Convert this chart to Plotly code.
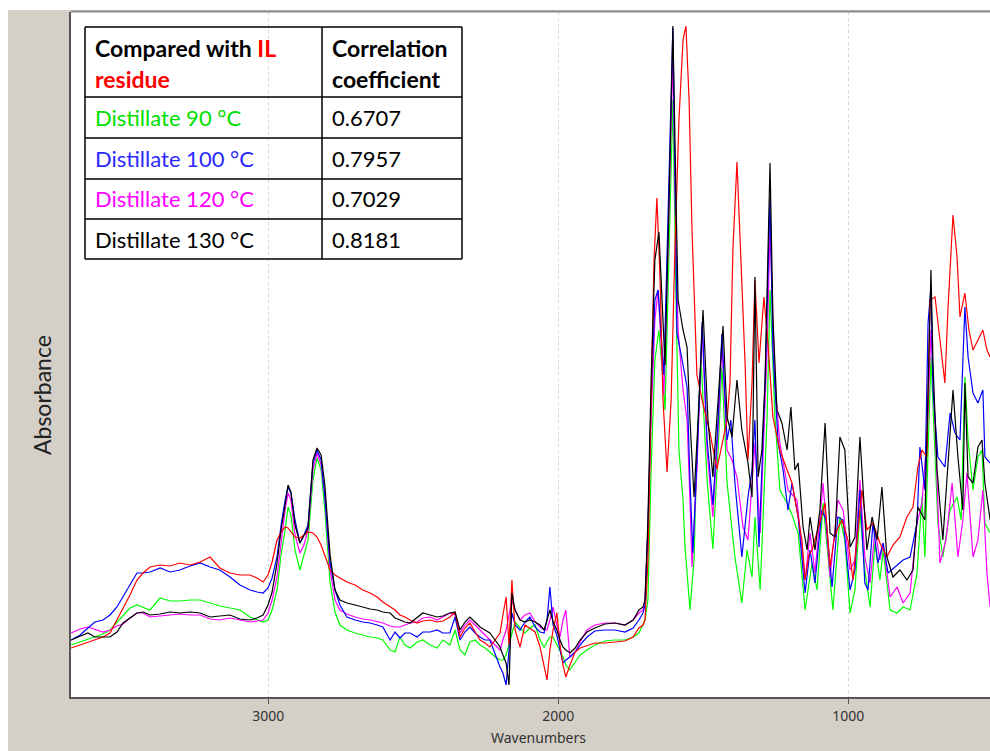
import plotly.graph_objects as go

# ---------------- data ----------------
# shared wavenumber grid for 3680-1722 cm-1 region
wn_common = [3680, 3649, 3622, 3598, 3570, 3546, 3522, 3501, 3477, 3453, 3432, 3408,
             3373, 3339, 3305, 3270, 3235, 3201, 3167, 3132, 3098, 3063,
             3039, 3018, 3001, 2987, 2970, 2956, 2942, 2932, 2922, 2908,
             2891, 2877, 2863, 2846, 2832, 2818, 2805, 2787, 2770, 2753,
             2729, 2701, 2674, 2649, 2625, 2605, 2580, 2563, 2546, 2529,
             2511, 2487, 2467, 2442, 2418, 2398, 2374, 2356, 2339, 2322,
             2305, 2287, 2270, 2253, 2236, 2218, 2201, 2191, 2180, 2170,
             2160, 2149, 2132, 2115, 2098, 2080, 2063, 2049, 2039, 2029,
             2018, 2005, 1994, 1984, 1974, 1960, 1942, 1925, 1901, 1874,
             1839, 1805, 1770, 1742, 1722]

# absorbance (mAU) on the shared grid
il_residue_a = [49, 52, 55, 57, 60, 64, 77, 89, 102, 117, 124, 130,
                132, 131, 134, 132, 135, 140, 129, 124, 122, 122,
                119, 115, 122, 135, 157, 165, 170, 169, 165, 160,
                159, 162, 165, 164, 160, 152, 142, 127, 122, 119,
                115, 112, 107, 104, 100, 95, 90, 87, 82, 80,
                77, 74, 76, 77, 75, 76, 80, 85, 60, 69,
                74, 65, 57, 54, 50, 57, 64, 82, 100, 52,
                117, 67, 50, 72, 69, 65, 50, 32, 17, 47,
                67, 84, 52, 32, 20, 32, 45, 49, 51, 54,
                54, 55, 56, 60, 69]
d100_a = [57, 62, 69, 75, 77, 82, 90, 100, 112, 124, 124, 125,
          129, 125, 127, 131, 134, 130, 127, 120, 112, 107,
          105, 104, 109, 119, 140, 172, 197, 210, 204, 177,
          154, 162, 172, 234, 247, 237, 200, 134, 107, 92,
          80, 77, 75, 74, 72, 70, 57, 65, 59, 64,
          64, 60, 65, 65, 67, 64, 64, 80, 57, 65,
          70, 64, 60, 57, 57, 42, 30, 24, 12, 47,
          84, 72, 67, 75, 80, 70, 65, 64, 77, 110,
          72, 62, 47, 34, 37, 40, 45, 52, 60, 66,
          67, 67, 65, 69, 77]
d90_a = [52, 55, 58, 60, 63, 67, 75, 82, 89, 92, 90, 87,
         99, 96, 96, 97, 97, 94, 91, 89, 87, 80,
         77, 75, 77, 87, 107, 142, 167, 190, 182, 147,
         127, 142, 157, 217, 239, 227, 187, 114, 85, 72,
         67, 64, 62, 60, 59, 57, 47, 45, 60, 52,
         49, 55, 57, 52, 49, 57, 52, 67, 47, 42,
         55, 57, 52, 49, 45, 40, 37, 37, 42, 52,
         62, 75, 69, 64, 69, 72, 57, 50, 55, 60,
         60, 52, 45, 40, 32, 27, 35, 42, 47, 52,
         56, 57, 57, 60, 64]
d120_a = [64, 68, 70, 68, 65, 67, 71, 73, 79, 84, 84, 80,
          81, 82, 83, 82, 82, 78, 77, 79, 77, 75,
          76, 77, 84, 97, 120, 154, 187, 204, 197, 162,
          144, 152, 167, 227, 244, 232, 200, 127, 97, 87,
          83, 80, 78, 77, 75, 74, 71, 70, 70, 72,
          74, 75, 79, 80, 77, 80, 84, 82, 64, 72,
          77, 72, 67, 62, 57, 52, 47, 57, 67, 82,
          97, 87, 77, 82, 84, 75, 70, 67, 67, 77,
          90, 72, 60, 77, 87, 40, 45, 55, 67, 72,
          74, 74, 72, 77, 84]
d130_a = [57, 61, 64, 60, 60, 60, 65, 74, 79, 84, 85, 82,
          83, 85, 84, 85, 84, 80, 81, 82, 78, 77,
          79, 82, 92, 105, 134, 167, 192, 212, 205, 172,
          154, 162, 169, 237, 249, 242, 212, 142, 107, 97,
          94, 92, 90, 88, 87, 85, 84, 79, 77, 75,
          74, 79, 84, 82, 80, 81, 84, 85, 67, 75,
          80, 75, 70, 67, 64, 57, 50, 42, 34, 12,
          104, 87, 77, 75, 77, 75, 72, 67, 77, 87,
          75, 67, 57, 50, 47, 44, 49, 57, 65, 69,
          73, 74, 72, 77, 87]

# fingerprint region (1708-511 cm-1), each series on its own points
il_residue_wn = [1708, 1701, 1691, 1680, 1670, 1660, 1649, 1639, 1625, 1611,
                 1598, 1584, 1570, 1560, 1549, 1539, 1522, 1504, 1477, 1453,
                 1436, 1418, 1408, 1398, 1384, 1367, 1356, 1346, 1332, 1322,
                 1308, 1291, 1277, 1260, 1236, 1211, 1194, 1173, 1160, 1149,
                 1136, 1125, 1111, 1098, 1080, 1063, 1049, 1039, 1022, 1001,
                 984, 970, 953, 936, 915, 891, 867, 846, 822, 798,
                 777, 760, 746, 729, 718, 701, 684, 667, 656, 639,
                 625, 615, 598, 584, 570, 553, 536, 522, 511]
il_residue_b = [72, 77, 137, 297, 437, 499, 417, 297, 225, 297,
                447, 577, 657, 671, 597, 467, 322, 297, 264, 228,
                252, 277, 314, 447, 535, 414, 334, 237, 314, 417,
                334, 400, 354, 280, 247, 227, 214, 180, 157, 117,
                142, 147, 162, 177, 194, 130, 157, 167, 177, 157,
                117, 157, 207, 167, 174, 154, 140, 152, 160, 180,
                190, 230, 247, 240, 397, 400, 357, 314, 390, 482,
                440, 380, 404, 367, 347, 357, 367, 347, 340]

d130_wn = [1708, 1701, 1691, 1680, 1667, 1653, 1642, 1632, 1618, 1605,
           1594, 1587, 1570, 1556, 1546, 1532, 1518, 1501, 1484, 1467,
           1449, 1432, 1418, 1401, 1384, 1367, 1346, 1332, 1322, 1311,
           1298, 1287, 1270, 1260, 1246, 1229, 1211, 1198, 1184, 1173,
           1156, 1142, 1132, 1115, 1098, 1080, 1063, 1046, 1029, 1012,
           994, 977, 960, 949, 936, 918, 901, 884, 867, 846,
           822, 798, 777, 760, 736, 725, 715, 708, 694, 674,
           656, 639, 622, 605, 598, 587, 570, 553, 539, 529, 511]
d130_b = [90, 97, 177, 317, 437, 465, 397, 332, 497, 671,
          497, 397, 367, 350, 277, 200, 277, 387, 277, 220,
          297, 371, 280, 260, 317, 267, 234, 200, 420, 220,
          247, 317, 534, 380, 287, 274, 247, 290, 227, 234,
          170, 147, 180, 147, 187, 274, 164, 160, 260, 247,
          150, 160, 260, 207, 147, 180, 157, 210, 140, 120,
          127, 117, 127, 190, 177, 307, 427, 334, 227, 157,
          240, 307, 240, 187, 314, 220, 214, 250, 257, 214, 177]

d100_wn = [1708, 1701, 1691, 1680, 1667, 1656, 1646, 1636, 1622, 1605,
           1594, 1591, 1573, 1556, 1546, 1536, 1522, 1504, 1487, 1467,
           1449, 1436, 1418, 1405, 1391, 1367, 1346, 1332, 1322, 1308,
           1287, 1270, 1260, 1242, 1225, 1208, 1194, 1173, 1149, 1132,
           1115, 1091, 1077, 1056, 1036, 1018, 994, 977, 960, 943,
           932, 915, 898, 880, 863, 839, 811, 787, 763, 753,
           736, 725, 715, 708, 691, 667, 649, 632, 615, 598,
           587, 570, 553, 536, 529, 511]
d100_b = [84, 92, 167, 297, 397, 407, 367, 322, 477, 669,
          447, 364, 337, 310, 217, 144, 237, 375, 257, 192,
          277, 363, 257, 277, 214, 140, 200, 227, 277, 150,
          314, 500, 347, 254, 227, 187, 214, 180, 104, 147,
          114, 187, 177, 110, 180, 177, 107, 127, 207, 114,
          107, 174, 134, 154, 124, 130, 137, 140, 174, 250,
          207, 374, 410, 307, 240, 230, 284, 264, 257, 390,
          340, 304, 294, 307, 240, 234]

d120_wn = [1708, 1701, 1691, 1680, 1667, 1656, 1646, 1636, 1622, 1605,
           1594, 1587, 1570, 1556, 1546, 1539, 1522, 1504, 1487, 1467,
           1449, 1436, 1418, 1401, 1384, 1363, 1346, 1322, 1304, 1280,
           1270, 1253, 1236, 1208, 1177, 1149, 1132, 1115, 1087, 1063,
           1036, 1018, 994, 977, 960, 943, 925, 908, 891, 880,
           856, 832, 811, 787, 763, 746, 729, 715, 701, 684,
           663, 642, 622, 605, 591, 570, 553, 536, 522, 511]
d120_b = [87, 97, 167, 277, 377, 407, 357, 302, 447, 642,
          447, 367, 307, 277, 197, 130, 227, 371, 247, 180,
          267, 355, 247, 237, 220, 170, 157, 254, 164, 347,
          470, 314, 254, 207, 197, 117, 164, 124, 214, 120,
          197, 187, 127, 137, 217, 140, 114, 167, 137, 154,
          100, 110, 94, 104, 174, 194, 257, 367, 274, 134,
          157, 214, 140, 177, 224, 140, 157, 207, 124, 90]

d90_wn = [1708, 1701, 1691, 1680, 1667, 1653, 1642, 1632, 1618, 1605,
          1594, 1584, 1570, 1563, 1546, 1532, 1522, 1508, 1487, 1467,
          1449, 1436, 1418, 1391, 1367, 1349, 1332, 1322, 1304, 1280,
          1270, 1253, 1236, 1211, 1194, 1173, 1149, 1125, 1108, 1087,
          1053, 1029, 1012, 994, 977, 960, 943, 925, 908, 891,
          880, 856, 832, 811, 787, 763, 746, 736, 715, 691,
          674, 649, 625, 611, 598, 587, 570, 553, 539, 529, 511]
d90_b = [72, 77, 97, 227, 337, 367, 327, 287, 447, 597,
         397, 247, 197, 150, 87, 137, 247, 339, 217, 148,
         247, 331, 214, 140, 94, 147, 120, 180, 107, 280,
         407, 280, 207, 194, 182, 164, 87, 134, 107, 194,
         87, 180, 157, 84, 107, 187, 127, 90, 154, 117,
         147, 87, 84, 90, 87, 124, 200, 140, 340, 174,
         140, 187, 200, 177, 320, 257, 207, 240, 247, 174, 164]

# table content
table_labels = ["Distillate 90 \u00b0C", "Distillate 100 \u00b0C",
                "Distillate 120 \u00b0C", "Distillate 130 \u00b0C"]
table_values = ["0.6707", "0.7957", "0.7029", "0.8181"]
table_colors = ["#00e000", "#2a2aff", "#ff00ff", "#000000"]

x_ticks = [3000, 2000, 1000]

# ---------------- figure ----------------
W, H = 990, 751
L, T, PW, PH = 71, 12, 919, 685


def fx(px):
    return (px - L) / PW


def fy(py):
    return 1 - (py - T) / PH


series = [
    ("Distillate 90 \u00b0C", d90_a, d90_wn, d90_b, "#00ff00"),
    ("Distillate 120 \u00b0C", d120_a, d120_wn, d120_b, "#ff00ff"),
    ("Distillate 100 \u00b0C", d100_a, d100_wn, d100_b, "#0000ff"),
    ("IL residue", il_residue_a, il_residue_wn, il_residue_b, "#ff0000"),
    ("Distillate 130 \u00b0C", d130_a, d130_wn, d130_b, "#000000"),
]

fig = go.Figure()
for name, a, wn_fp, b, color in series:
    fig.add_trace(go.Scatter(
        x=wn_common + wn_fp, y=a + b, mode="lines", name=name,
        line=dict(color=color, width=1.2), showlegend=False,
        hoverinfo="x+y+name"))

shapes = []
annotations = []

# white strips around the beige panel
shapes.append(dict(type="rect", xref="paper", yref="paper",
                   x0=fx(0), x1=fx(990), y0=fy(10), y1=fy(0),
                   fillcolor="white", line=dict(width=0), layer="below"))
shapes.append(dict(type="rect", xref="paper", yref="paper",
                   x0=fx(0), x1=fx(8), y0=fy(751), y1=fy(0),
                   fillcolor="white", line=dict(width=0), layer="below"))
# top frame line
shapes.append(dict(type="line", xref="paper", yref="paper",
                   x0=fx(71), x1=fx(990), y0=fy(11.5), y1=fy(11.5),
                   line=dict(color="#8a8a8a", width=2)))

# table grid
tx0, tx1, tcol = 85, 462, 322
row_lines = [27, 97, 138, 179, 219, 259]
for ry in row_lines:
    shapes.append(dict(type="line", xref="paper", yref="paper",
                       x0=fx(tx0), x1=fx(tx1), y0=fy(ry), y1=fy(ry),
                       line=dict(color="black", width=1.5)))
for cx in (tx0, tcol, tx1):
    shapes.append(dict(type="line", xref="paper", yref="paper",
                       x0=fx(cx), x1=fx(cx), y0=fy(row_lines[0]), y1=fy(row_lines[-1]),
                       line=dict(color="black", width=1.5)))

tfont = "Lato, 'Noto Sans', sans-serif"


def cell_text(text, px, py, color="black", bold=False, size=22):
    annotations.append(dict(
        x=fx(px), y=fy(py), xref="paper", yref="paper",
        text=("<b>%s</b>" % text) if bold else text,
        showarrow=False, xanchor="left", yanchor="middle",
        font=dict(family=tfont, size=size, color=color)))


cell_text("Compared with <span style='color:#ff0000'>IL</span>", 93, 48, bold=True, size=23)
cell_text("<span style='color:#ff0000'>residue</span>", 93, 79, bold=True, size=23)
cell_text("Correlation", 330, 48, bold=True, size=23)
cell_text("coefficient", 330, 79, bold=True, size=23)
for i, (lab, val, col) in enumerate(zip(table_labels, table_values, table_colors)):
    cy = (row_lines[i + 1] + row_lines[i + 2]) / 2
    cell_text(lab, 93, cy, color=col)
    cell_text(val, 330, cy)

# axis titles
annotations.append(dict(x=fx(538), y=fy(737), xref="paper", yref="paper",
                        text="Wavenumbers", showarrow=False,
                        xanchor="center", yanchor="middle",
                        font=dict(family="'Noto Sans', sans-serif", size=14, color="#333333")))
annotations.append(dict(x=fx(42), y=fy(395), xref="paper", yref="paper",
                        text="Absorbance", showarrow=False, textangle=-90,
                        xanchor="center", yanchor="middle",
                        font=dict(family=tfont, size=23, color="#222222")))

fig.update_layout(
    width=W, height=H,
    margin=dict(l=L, r=W - L - PW, t=T, b=H - T - PH, pad=0),
    paper_bgcolor="#d4d0c8",
    plot_bgcolor="white",
    shapes=shapes,
    annotations=annotations,
    showlegend=False,
    xaxis=dict(
        range=[3680.4, 511.4], tickvals=x_ticks, ticks="outside", ticklen=5,
        tickcolor="#555555", tickwidth=1,
        showline=True, linecolor="#555555", linewidth=1.5,
        showgrid=True, gridcolor="#d6d6d6", griddash="dot", gridwidth=1,
        zeroline=False,
        tickfont=dict(family="'Noto Sans', sans-serif", size=14, color="#333333"),
    ),
    yaxis=dict(
        range=[0, 685], showticklabels=False, ticks="", showgrid=False,
        showline=True, linecolor="#555555", linewidth=1.5, zeroline=False,
    ),
)

fig.write_html("out.html")
